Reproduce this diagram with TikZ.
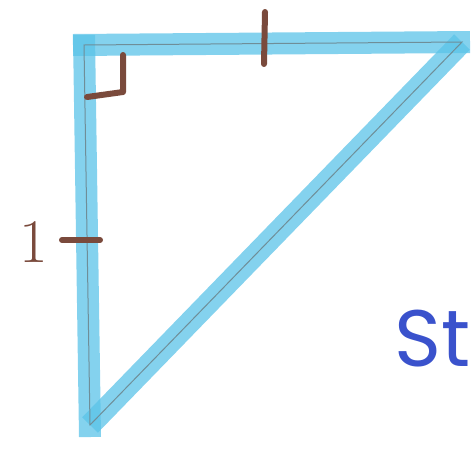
\documentclass[tikz,border=0pt]{standalone}
\usepackage{fontspec}
\newfontfamily\handfont{Poppins}
\usetikzlibrary{positioning,calc}
\definecolor{marker}{HTML}{5BC3E8}
\definecolor{pencil}{HTML}{6F8E98}
\definecolor{brownpen}{HTML}{7A4A3C}
\definecolor{bluepen}{HTML}{3A52CC}
\tikzset{
  side/.style={draw=marker, line width=22pt, opacity=0.75, line cap=butt},
  guide/.style={draw=pencil, line width=1pt},
  tick/.style={draw=brownpen, line width=6pt, line cap=round, line join=round},
  label/.style={text=brownpen, font=\fontsize{62}{62}\selectfont, inner sep=0pt},
  title/.style={text=bluepen, font=\handfont\fontsize{80}{80}\selectfont, inner sep=0pt}
}
\begin{document}
\begin{tikzpicture}[x=1pt, y=-1pt]
\useasboundingbox (0,0) rectangle (473,448);
% vertices
\coordinate (A) at (84,45);
\coordinate (B) at (462,42);
\coordinate (C) at (90,425);
% marker sides
\draw[side] ($(A)+(-11,0)$) -- ($(B)+(8,0)$);
\draw[side] ($(A)+(0,-10)$) -- ($(C)+(0,12)$);
\draw[side] (B) -- (C);
\draw[guide] (A) -- (B) -- (C) -- cycle;
% right angle and equal sides marks
\coordinate (r1) at (87,97);
\coordinate (r2) at (123,92);
\coordinate (r3) at (123,55);
\draw[tick] (r1) -- (r2) -- (r3);
\coordinate (t1) at (265,12);
\coordinate (t2) at (264,64);
\draw[tick] (t1) -- (t2);
\coordinate (l1) at (62,240);
\coordinate (l2) at (100,240);
\draw[tick] (l1) -- (l2);
% labels
\node[label, anchor=base] (one) at (34,262) {1};
\node[title, anchor=base west] (st) at (394,366) {St};
\end{tikzpicture}
\end{document}
